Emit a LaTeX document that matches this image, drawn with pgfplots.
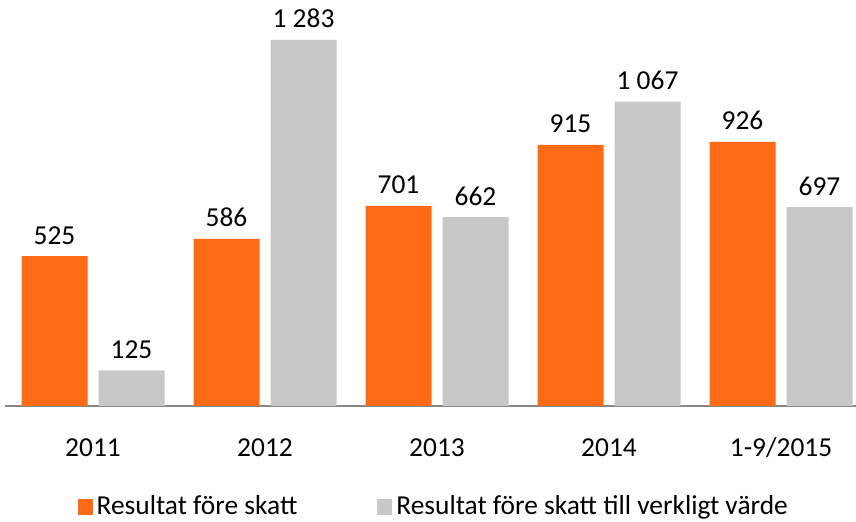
\documentclass[border=0pt]{standalone}
\usepackage{fontspec}
\setmainfont{Carlito}
\usepackage{pgfplots}
\pgfplotsset{compat=1.18}
\definecolor{resorange}{HTML}{FF6B14}
\definecolor{resgray}{HTML}{C8C8C8}
\definecolor{axgray}{HTML}{868686}

\begin{document}
\fontsize{13.7}{16}\selectfont
\begin{tikzpicture}
\begin{axis}[
  x=86pt, y=0.14265pt,
  xmin=-0.512, xmax=4.436, ymin=0, ymax=1423,
  ybar=5.5pt, bar width=33pt,
  axis x line*=bottom, hide y axis,
  axis line style={axgray, line width=0.9pt},
  xtick={0,1,2,3,4},
  xticklabels={2011,2012,2013,2014,1-9/2015},
  xtick style={draw=none},
  xticklabel style={anchor=base, yshift=-21pt},
  /pgf/number format/assume math mode=true,
  /pgf/number format/1000 sep={\ },
  nodes near coords,
  every node near coord/.append style={anchor=base, yshift=6pt, text=black},
  clip=false,
  legend columns=2,
  legend style={draw=none, at={(0.505,0)}, anchor=center, yshift=-50.5pt,
    /tikz/every even column/.append style={column sep=38pt},
    inner sep=0pt, cells={anchor=west, inner xsep=2pt}},
  legend image code/.code={\fill[#1] (0pt,-3.8pt) rectangle (7.5pt,3.8pt);},
]
\addplot[fill=resorange, draw=none] coordinates {(0,525) (1,586) (2,701) (3,915) (4,926)};
\addplot[fill=resgray, draw=none] coordinates {(0,125) (1,1283) (2,662) (3,1067) (4,697)};
\legend{Resultat före skatt, Resultat före skatt till verkligt värde}
\coordinate (bl) at (axis cs:-0.5407,-406.6);
\coordinate (tr) at (axis cs:4.436,1423);
\end{axis}
\pgfresetboundingbox
\path[use as bounding box] (bl) rectangle (tr);
\end{tikzpicture}
\end{document}
